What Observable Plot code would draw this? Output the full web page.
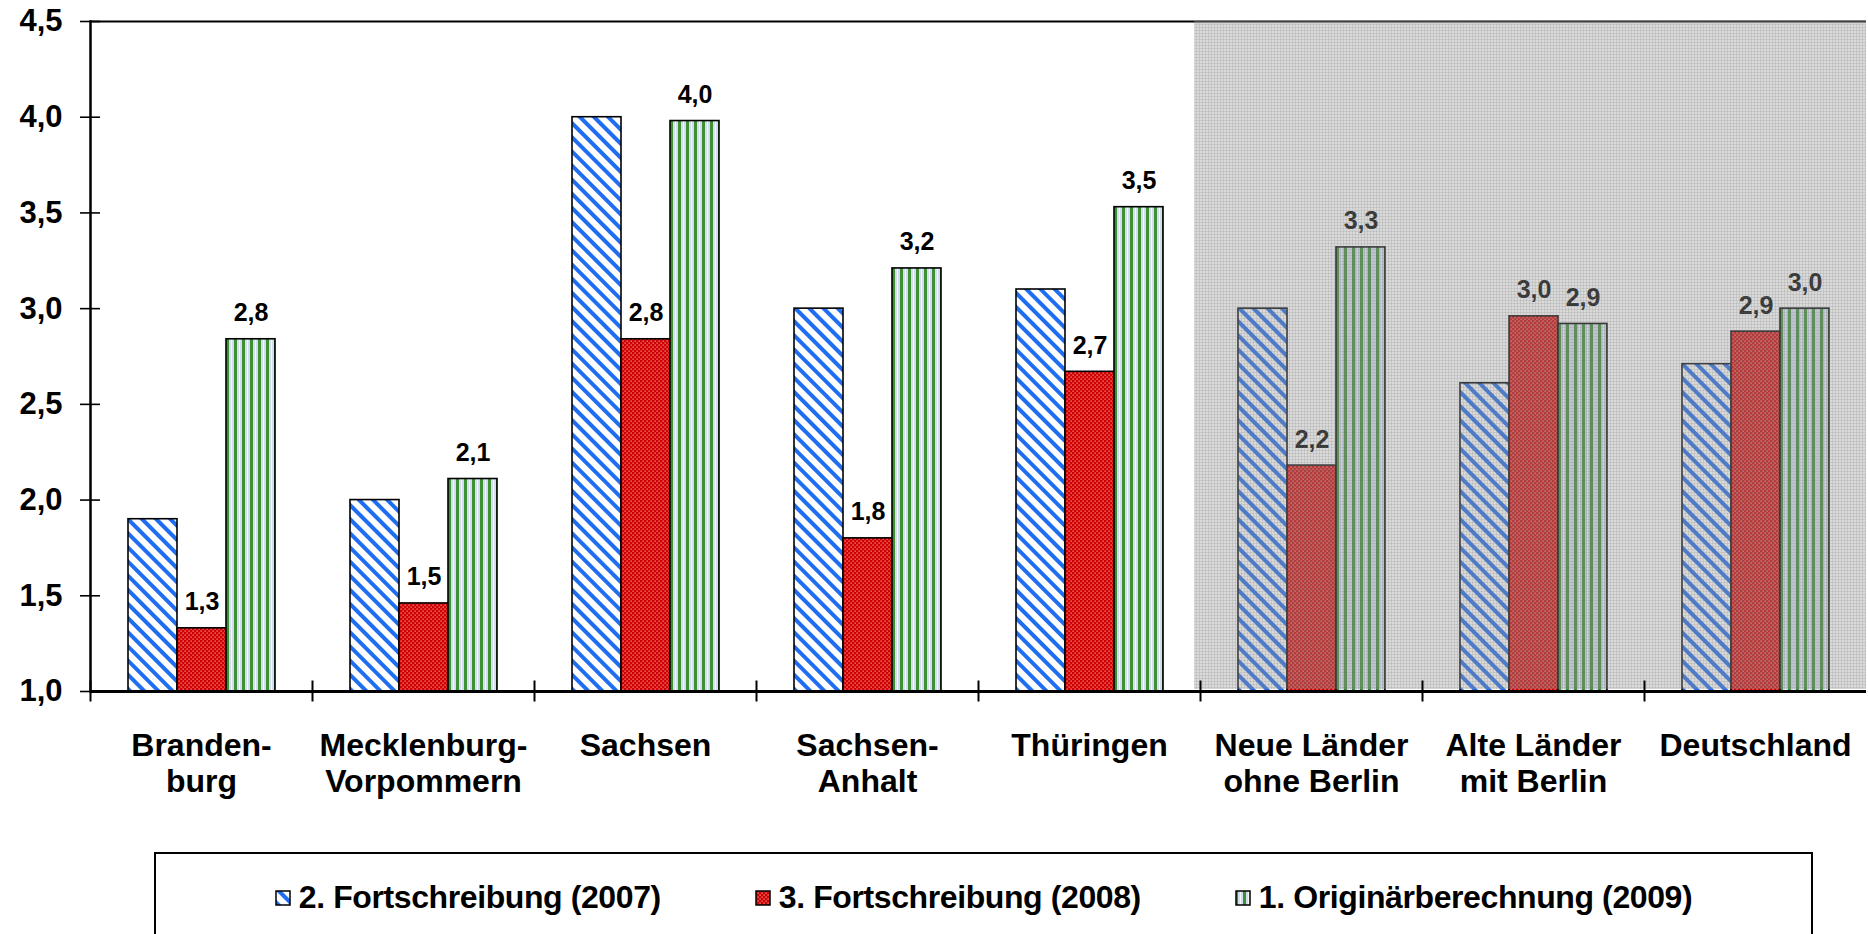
<!DOCTYPE html>
<html>
<head>
<meta charset="utf-8">
<script src="https://cdn.jsdelivr.net/npm/d3@7"></script>
<script src="https://cdn.jsdelivr.net/npm/@observablehq/plot@0.6"></script>
<style>
html, body { margin: 0; padding: 0; background: #fff; overflow: hidden; width: 1868px; height: 934px; }
#chart { position: absolute; left: 0; top: 0; }
#legend { position: absolute; left: 154px; top: 852px; width: 1659px; height: 120px; border: 2px solid #000; box-sizing: border-box;
  font-family: "Liberation Sans", Arial, sans-serif; font-weight: bold; font-size: 32px; color: #000; letter-spacing: -0.4px; }
#legend .items { position: absolute; left: 0; right: 0; top: 25px; display: flex; justify-content: center; align-items: center; gap: 94px; line-height: 37px; }
#legend .item { display: flex; align-items: center; gap: 8px; white-space: nowrap; }
#legend svg { display: block; }
</style>
</head>
<body>
<svg width="0" height="0" style="position:absolute">
  <defs>
    <pattern id="patBlue" patternUnits="userSpaceOnUse" width="10" height="10" patternTransform="rotate(-45)">
      <rect width="10" height="10" fill="#ffffff"/>
      <rect x="0" width="4" height="10" fill="#1f6ef2"/>
    </pattern>
    <pattern id="patRed" patternUnits="userSpaceOnUse" width="4" height="4">
      <rect width="4" height="4" fill="#d00000"/>
      <rect x="0.5" y="0.5" width="1.2" height="1.2" fill="#f2a8a8"/>
      <rect x="2.5" y="2.5" width="1.2" height="1.2" fill="#f2a8a8"/>
    </pattern>
    <pattern id="patGreen" patternUnits="userSpaceOnUse" width="8" height="8">
      <rect width="8" height="8" fill="#d3ddef"/>
      <rect x="5" width="1" height="8" fill="#f4f6fb"/>
      <rect x="0" width="3" height="8" fill="#3f8f34"/>
    </pattern>
    <pattern id="patMesh" patternUnits="userSpaceOnUse" width="3" height="3">
      <rect width="3" height="3" fill="rgba(150,150,150,0.36)"/>
      <rect width="3" height="1" fill="rgba(110,110,110,0.16)"/>
      <rect width="1" height="3" fill="rgba(110,110,110,0.16)"/>
    </pattern>
  </defs>
</svg>
<div id="chart"></div>
<div id="legend"><div class="items"></div></div>
<script>
// ---- data ----
const categories = ["Brandenburg", "Mecklenburg-Vorpommern", "Sachsen", "Sachsen-Anhalt", "Thüringen",
  "Neue Länder ohne Berlin", "Alte Länder mit Berlin", "Deutschland"];
const categoryLabels = ["Branden-\nburg", "Mecklenburg-\nVorpommern", "Sachsen", "Sachsen-\nAnhalt", "Thüringen",
  "Neue Länder\nohne Berlin", "Alte Länder\nmit Berlin", "Deutschland"];
const shadedCategories = ["Neue Länder ohne Berlin", "Alte Länder mit Berlin", "Deutschland"];
const series = ["2. Fortschreibung (2007)", "3. Fortschreibung (2008)", "1. Originärberechnung (2009)"];
const fortschreibung2007 = [1.90, 2.00, 4.00, 3.00, 3.10, 3.00, 2.61, 2.71];
const fortschreibung2008 = [1.33, 1.46, 2.84, 1.80, 2.67, 2.18, 2.96, 2.88];
const originaer2009 = [2.84, 2.11, 3.98, 3.21, 3.53, 3.32, 2.92, 3.00];
const seriesValues = [fortschreibung2007, fortschreibung2008, originaer2009];
const seriesLabelled = [false, true, true];
const seriesFills = ["url(#patBlue)", "url(#patRed)", "url(#patGreen)"];
const yTicks = [1.0, 1.5, 2.0, 2.5, 3.0, 3.5, 4.0, 4.5];

const fmt = v => v.toFixed(1).replace(".", ",");

const rows = [];
categories.forEach((c, i) => series.forEach((s, j) => rows.push({category: c, series: s, value: seriesValues[j][i], labelled: seriesLabelled[j]})));

const barMarks = series.map((s, j) => Plot.barY(rows.filter(d => d.series === s), {
  fx: "category", x: "series", y1: 1, y2: "value", fill: seriesFills[j], stroke: "#000", strokeWidth: 1.6
}));

const chart = Plot.plot({
  width: 1868,
  height: 840,
  marginTop: 21,
  marginBottom: 149,
  marginLeft: 88,
  marginRight: 0,
  fx: {domain: categories, padding: 0, axis: null, label: null},
  x: {domain: series, paddingInner: 0, paddingOuter: 0.757, axis: null},
  y: {domain: [1, 4.5], axis: null},
  style: {fontFamily: "'Liberation Sans', Arial, sans-serif", fontWeight: "bold", color: "#000", background: "#fff", overflow: "visible"},
  marks: [
    ...barMarks,
    Plot.text(rows.filter(d => d.labelled), {fx: "category", x: "series", y: "value", text: d => fmt(d.value), dy: -26, fontSize: 25, fontWeight: "bold", fill: "#000"}),
    Plot.ruleY([4.5], {stroke: "#000", strokeWidth: 2.2}),
    Plot.barY(shadedCategories.slice(0, 1), {fx: d => d, y1: 1, y2: 4.5, fill: "url(#patMesh)", insetBottom: 2, insetLeft: -6}),
    Plot.barY(shadedCategories.slice(1), {fx: d => d, y1: 1, y2: 4.5, fill: "url(#patMesh)", insetBottom: 2}),
    Plot.ruleY([1], {stroke: "#000", strokeWidth: 3}),
    Plot.frame({anchor: "left", facetAnchor: "left", stroke: "#000", strokeWidth: 2.5}),
    Plot.frame({anchor: "left", insetTop: 660, insetBottom: -9, stroke: "#000", strokeWidth: 2}),
    Plot.axisY({ticks: yTicks, tickFormat: fmt, tickSize: 20, dx: 10, tickPadding: 18, fontSize: 31, strokeWidth: 1.6, label: null}),
    Plot.axisFx({anchor: "bottom", tickSize: 0, tickPadding: 39, fontSize: 32, lineHeight: 1.13, label: null,
      tickFormat: d => categoryLabels[categories.indexOf(d)]})
  ]
});
document.getElementById("chart").appendChild(chart);

// legend
const items = d3.select("#legend .items");
series.forEach((s, j) => {
  const it = items.append("div").attr("class", "item");
  const sw = it.append("svg").attr("width", 16).attr("height", 16);
  sw.append("rect").attr("x", 1).attr("y", 1).attr("width", 14).attr("height", 14)
    .attr("fill", seriesFills[j]).attr("stroke", "#000").attr("stroke-width", 1.5);
  it.append("span").text(s);
});
</script>
</body>
</html>
